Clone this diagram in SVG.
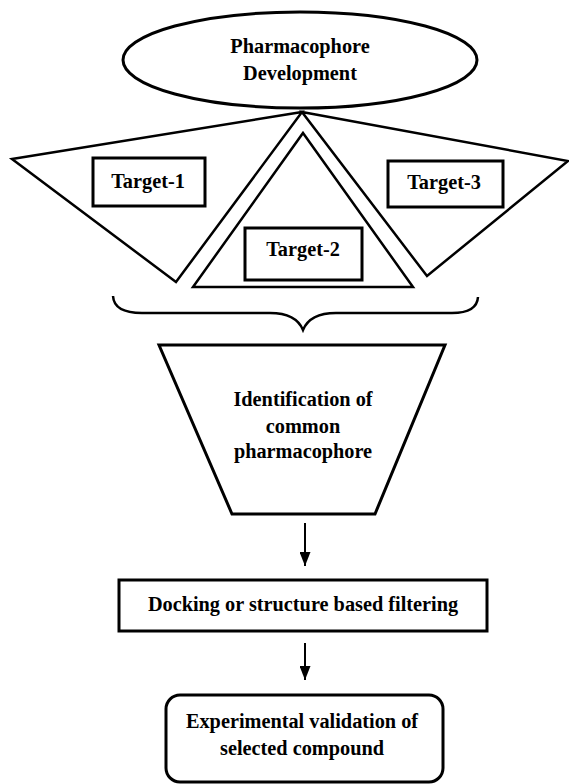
<svg xmlns="http://www.w3.org/2000/svg" width="569" height="784" viewBox="0 0 569 784">
  <style>
    .shape { fill: none; stroke: #000; stroke-width: 3; stroke-linejoin: miter; }
    .thin { fill: none; stroke: #000; stroke-width: 2.5; stroke-linejoin: miter; }
    .label { font-family: "Liberation Serif", "Times New Roman", serif; font-weight: bold; font-size: 20.3px; fill: #000; text-anchor: middle; }
    .wire { stroke: #000; stroke-width: 2; fill: none; }
  </style>
  <defs>
    <!-- solid down-pointing arrowhead, tip at the end of the line -->
    <marker id="head" markerWidth="14" markerHeight="11" refX="14" refY="5.5" orient="auto" markerUnits="userSpaceOnUse" viewBox="0 0 14 11">
      <path d="M0,0 L14,5.5 L0,11 Z" fill="#000"/>
    </marker>
  </defs>
  <rect width="569" height="784" fill="#fff"/>

  <g id="pharmacophore-development">
    <ellipse class="shape" cx="300" cy="60" rx="177" ry="48"/>
    <text class="label" x="300" y="53">Pharmacophore</text>
    <text class="label" x="300" y="80">Development</text>
  </g>

  <g id="target-1">
    <polygon class="thin" points="12,159 302,112 176,282"/>
    <rect class="shape" x="93" y="158" width="112" height="48"/>
    <text class="label" x="148" y="188">Target-1</text>
  </g>

  <g id="target-2">
    <polygon class="thin" points="303,133 413,287 193,287"/>
    <rect class="shape" x="245" y="228" width="117" height="52"/>
    <text class="label" x="303" y="256">Target-2</text>
  </g>

  <g id="target-3">
    <polygon class="thin" points="302,112 568,161 427,276"/>
    <rect class="shape" x="388" y="161" width="115" height="46"/>
    <text class="label" x="444" y="189">Target-3</text>
  </g>

  <g id="brace">
    <path class="thin" d="M113,296 Q114,313 142,313 L270,313 Q296,313 303,330 Q310,313 336,313 L452,313 Q477,313 478,297"/>
  </g>

  <g id="common-pharmacophore">
    <polygon class="shape" points="159,345 445,345 375,514 232,514"/>
    <text class="label" x="303" y="406">Identification of</text>
    <text class="label" x="303" y="433">common</text>
    <text class="label" x="303" y="458">pharmacophore</text>
  </g>

  <g id="docking">
    <rect class="shape" x="119" y="580" width="368" height="51"/>
    <text class="label" x="303" y="611">Docking or structure based filtering</text>
  </g>

  <g id="validation">
    <rect class="shape" x="166" y="695" width="277" height="87" rx="14" ry="14"/>
    <text class="label" x="302" y="728">Experimental validation of</text>
    <text class="label" x="302" y="755">selected compound</text>
  </g>

  <g id="connectors">
    <line class="wire" x1="305" y1="523" x2="305" y2="566" marker-end="url(#head)"/>
    <line class="wire" x1="305" y1="643" x2="305" y2="680" marker-end="url(#head)"/>
  </g>
</svg>
